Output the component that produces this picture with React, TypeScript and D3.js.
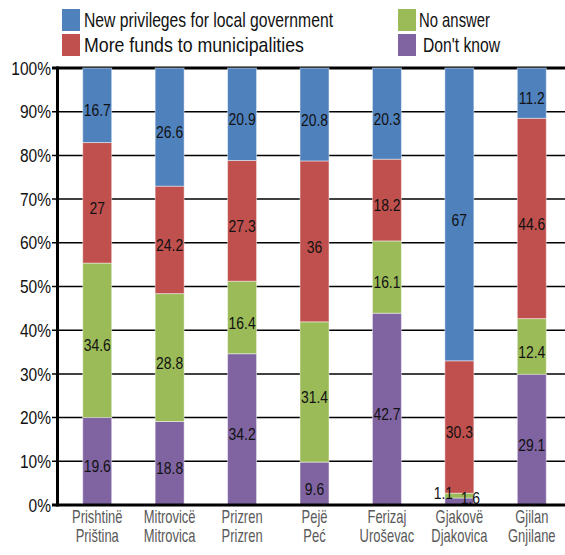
import React from "react";
import * as d3 from "d3";

const citiesAlb = ["Prishtinë", "Mitrovicë", "Prizren", "Pejë", "Ferizaj", "Gjakovë", "Gjilan"];
const citiesSrb = ["Priština", "Mitrovica", "Prizren", "Peć", "Uroševac", "Djakovica", "Gnjilane"];
const dontKnow = [19.6, 18.8, 34.2, 9.6, 42.7, 1.6, 29.1];
const noAnswer = [34.6, 28.8, 16.4, 31.4, 16.1, 1.1, 12.4];
const moreFunds = [27, 24.2, 27.3, 36, 18.2, 30.3, 44.6];
const newPrivileges = [16.7, 26.6, 20.9, 20.8, 20.3, 67, 11.2];
const yTicks = [0, 10, 20, 30, 40, 50, 60, 70, 80, 90, 100];

const seriesNames = ["Don't know", "No answer", "More funds to municipalities", "New privileges for local government"];
const seriesValues = [dontKnow, noAnswer, moreFunds, newPrivileges];
const seriesColors = ["#8064A2", "#9BBB59", "#C0504D", "#4F81BD"];
const smallShift = [[11, -4], [-16, -3], [0, 0], [0, 0]];

const W = 565;
const H = 555;
const FONT = "'Liberation Sans', Arial, sans-serif";

function T(props: { x: number; y: number; sx: number; size: number; anchor?: string; fill?: string; children: any; dy?: string }) {
  return (
    <text
      transform={`translate(${props.x},${props.y}) scale(${props.sx},1)`}
      dy={props.dy}
      textAnchor={props.anchor || "middle"}
      fontFamily={FONT}
      fontSize={props.size}
      fill={props.fill || "#111"}
    >
      {props.children}
    </text>
  );
}

export default function App() {
  const x = d3.scaleBand<number>().domain(d3.range(citiesAlb.length)).range([61, 568]).paddingInner(0.6).paddingOuter(0.3);
  const y = d3.scaleLinear().domain([0, 100]).range([505, 68]);
  const xAxisLeft = 57.5;

  const rows = citiesAlb.map((_, i) => {
    const obj: any = { i };
    seriesNames.forEach((s, k) => (obj[s] = seriesValues[k][i]));
    return obj;
  });
  const stack = d3.stack<any>().keys(seriesNames).offset(d3.stackOffsetExpand);
  const stacked = stack(rows);

  const legend = [
    { k: 3, x: 62, y: 9, tx: 84, tl: 249 },
    { k: 2, x: 62, y: 34, tx: 84, tl: 220 },
    { k: 1, x: 398, y: 9, tx: 419, tl: 71 },
    { k: 0, x: 398, y: 34, tx: 423, tl: 77 },
  ];

  return (
    <svg width={W} height={H} style={{ position: "absolute", left: 0, top: 0, background: "#fff" }}>
      {/* gridlines */}
      {yTicks.map((t) => (
        <line key={"g" + t} x1={52} x2={W} y1={y(t)} y2={y(t)} stroke="#000" strokeWidth={t === 100 ? 3 : 1.5} />
      ))}
      {/* bars */}
      {stacked.map((layer, k) => (
        <g key={"s" + k}>
          {layer.map((d, i) => (
            <rect
              key={i}
              x={x(i)}
              width={x.bandwidth()}
              y={y(d[1] * 100)}
              height={y(d[0] * 100) - y(d[1] * 100)}
              fill={seriesColors[k]}
              stroke="rgba(255,255,255,0.45)"
              strokeWidth={1}
            />
          ))}
        </g>
      ))}
      {/* bar labels */}
      {stacked.map((layer, k) => (
        <g key={"l" + k}>
          {layer.map((d, i) => {
            const v = seriesValues[k][i];
            const small = v < 3;
            const cx = (x(i) as number) + x.bandwidth() / 2 + (small ? smallShift[k][0] : 0);
            const cy = (y(d[0] * 100) + y(d[1] * 100)) / 2 + (small ? smallShift[k][1] : 5);
            return (
              <T key={i} x={cx} y={cy} dy="0.36em" sx={0.82} size={17}>
                {v}
              </T>
            );
          })}
        </g>
      ))}
      {/* axes */}
      <line x1={xAxisLeft} x2={xAxisLeft} y1={66.5} y2={506.5} stroke="#000" strokeWidth={3} />
      <line x1={52} x2={W} y1={y(0)} y2={y(0)} stroke="#000" strokeWidth={3} />
      {yTicks.map((t) => (
        <T key={"t" + t} x={51} y={y(t)} dy="0.36em" anchor="end" sx={0.84} size={18.5}>
          {t}%
        </T>
      ))}
      {citiesAlb.map((c, i) => {
        const cx = (x(i) as number) + x.bandwidth() / 2;
        return (
          <g key={"c" + i}>
            <T x={cx} y={523} sx={0.72} size={18} fill="#595959">{c}</T>
            <T x={cx} y={542} sx={0.72} size={18} fill="#595959">{citiesSrb[i]}</T>
          </g>
        );
      })}
      {/* legend */}
      {legend.map((l) => (
        <g key={"lg" + l.k}>
          <rect x={l.x} y={l.y} width={18} height={22} fill={seriesColors[l.k]} />
          <text x={l.tx} y={l.y + 18} fontFamily={FONT} fontSize={21} fill="#111" textLength={l.tl} lengthAdjust="spacingAndGlyphs">
            {seriesNames[l.k]}
          </text>
        </g>
      ))}
    </svg>
  );
}
